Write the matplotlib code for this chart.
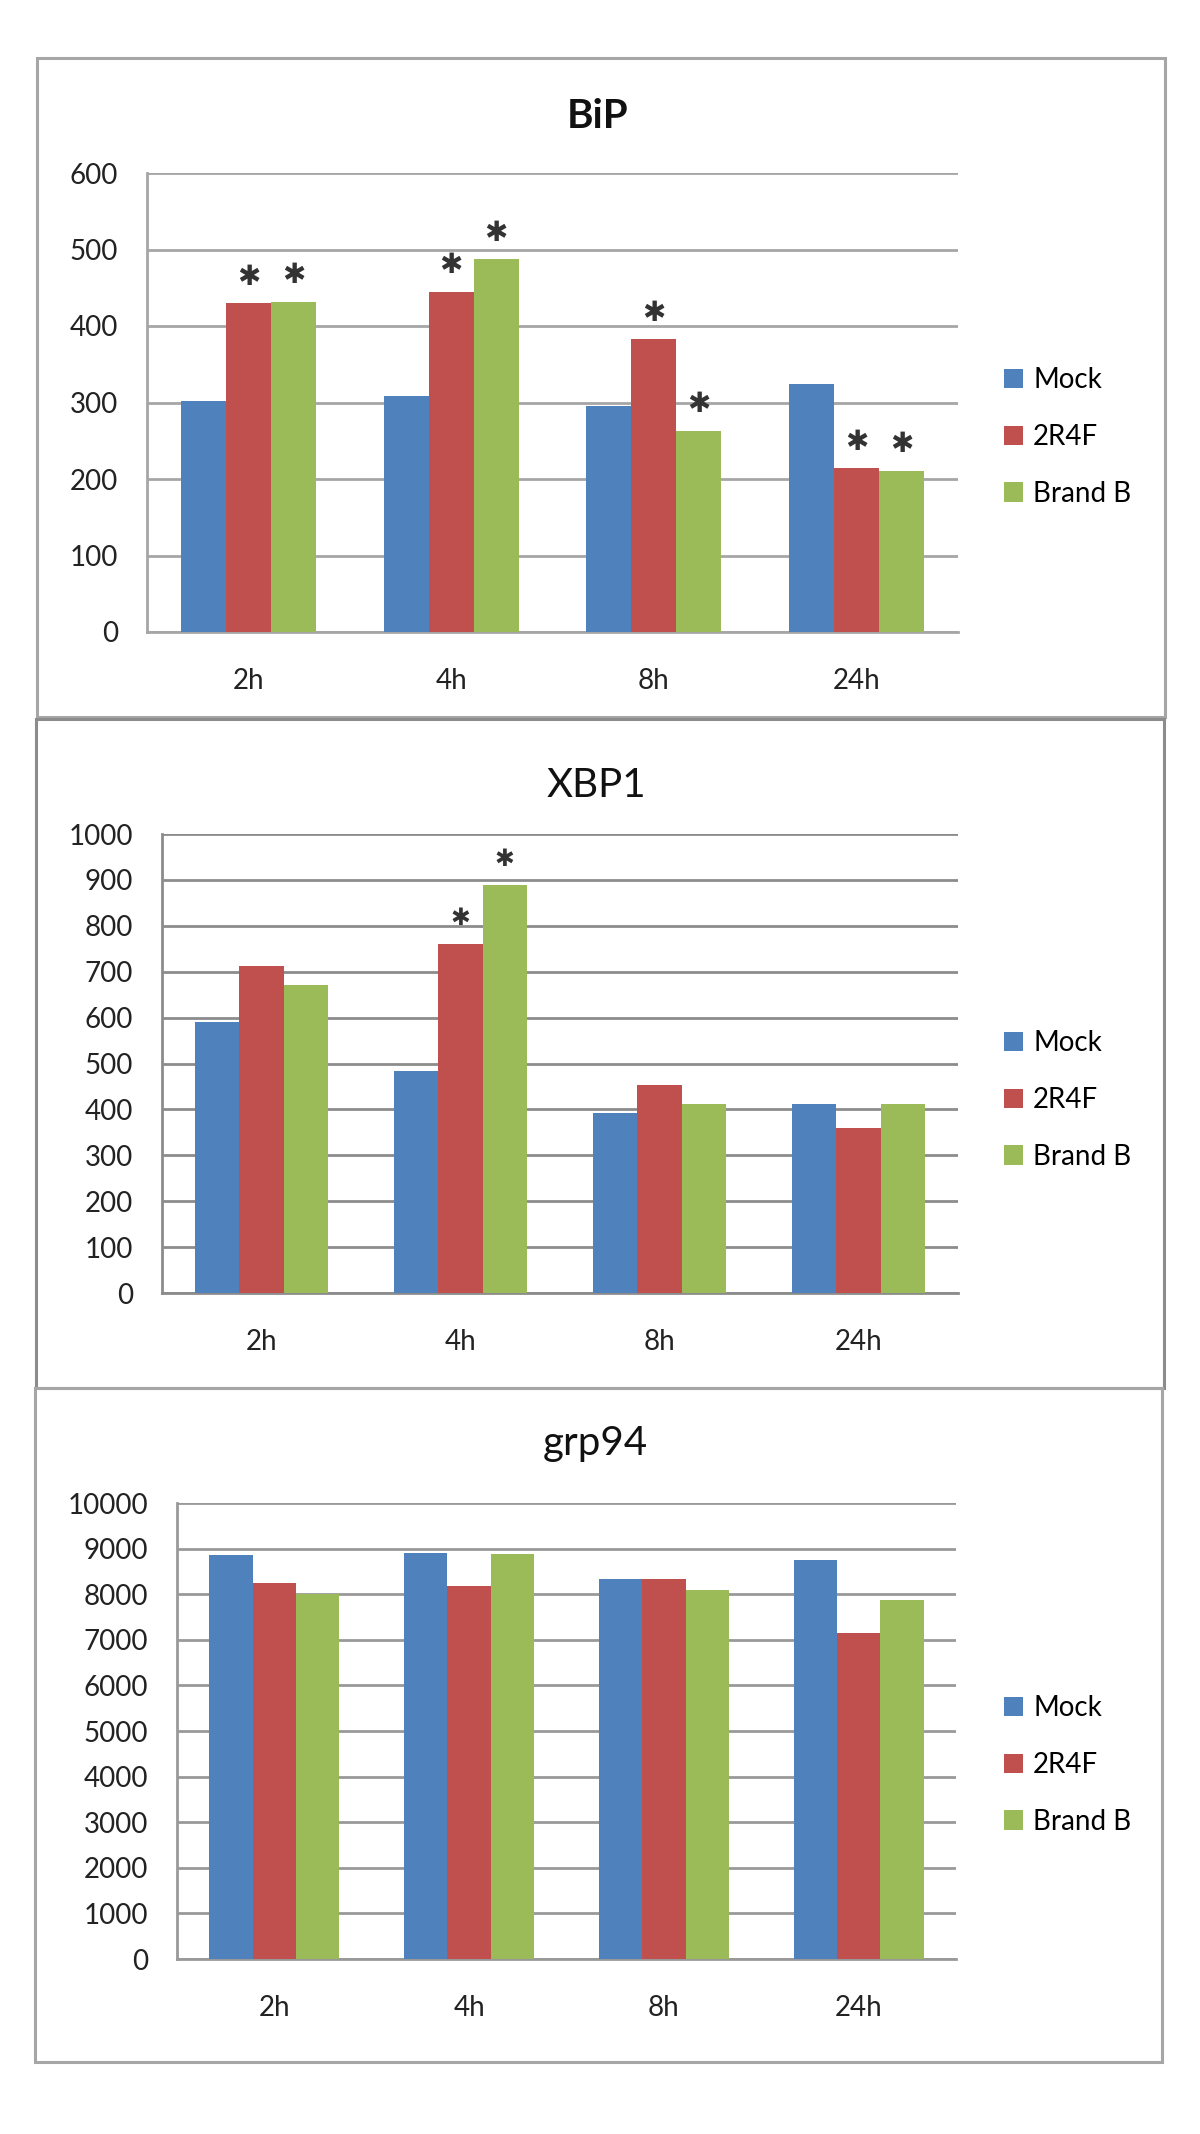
import numpy as np
import matplotlib
matplotlib.use("Agg")
import matplotlib.pyplot as plt
from matplotlib.patches import Rectangle

plt.rcParams['font.family'] = ['Lato', 'DejaVu Sans']

# data
times = ['2h', '4h', '8h', '24h']
series = ['Mock', '2R4F', 'Brand B']
colors = ['#4F81BD', '#C0504D', '#9BBB59']

bip_mock = [302, 309, 296, 324]
bip_2r4f = [430, 445, 383, 214]
bip_brandb = [432, 487, 263, 211]
bip_stars = [(0, 1), (0, 2), (1, 1), (1, 2), (2, 1), (2, 2), (3, 1), (3, 2)]

xbp1_mock = [590, 483, 392, 411]
xbp1_2r4f = [713, 760, 453, 360]
xbp1_brandb = [672, 888, 411, 411]
xbp1_stars = [(1, 1), (1, 2)]

grp94_mock = [8850, 8900, 8340, 8750]
grp94_2r4f = [8236, 8175, 8337, 7157]
grp94_brandb = [8004, 8890, 8085, 7873]
grp94_stars = []

W, H = 1200, 2134
fig = plt.figure(figsize=(W / 100, H / 100), dpi=100)


def box(x0, y0, x1, y1):
    # pixel box -> figure fraction [left, bottom, width, height]
    return [x0 / W, 1 - y1 / H, (x1 - x0) / W, (y1 - y0) / H]


def panel(rect, frame, title, bold, title_y, vals, stars, ymax, ystep,
          leg_y, grid_c, frame_c, star_size):
    fx0, fy0, fx1, fy1 = frame
    fig.patches.append(Rectangle((fx0 / W, 1 - fy1 / H), (fx1 - fx0) / W,
                                 (fy1 - fy0) / H, transform=fig.transFigure,
                                 fill=False, edgecolor=frame_c, linewidth=2.2))
    fig.text((fx0 + fx1) / 2 / W - 0.003, 1 - title_y / H, title, ha='center',
             va='center', fontsize=29,
             fontweight='bold' if bold else 'normal', color='#111111')

    ax = fig.add_axes(box(*rect))
    w = 1 / 4.5
    x = np.arange(len(times))
    for i, v in enumerate(vals):
        ax.bar(x + (i - 1) * w, v, w, color=colors[i], zorder=3,
               label=series[i])
    for ci, si in stars:
        ax.annotate('✱', (x[ci] + (si - 1) * w, vals[si][ci]),
                    xytext=(0, 19), textcoords='offset points', ha='center',
                    va='center', fontsize=star_size, color='#333333',
                    family=['DejaVu Sans'])

    ax.set_xlim(-0.5, len(times) - 0.5)
    ax.set_ylim(0, ymax)
    ax.set_yticks(np.arange(0, ymax + 1, ystep))
    ax.set_xticks(x)
    ax.set_xticklabels(times)
    ax.yaxis.grid(True, color=grid_c, linewidth=2.0, zorder=0)
    ax.set_axisbelow(True)
    for s in ['top', 'right']:
        ax.spines[s].set_visible(False)
    for s in ['left', 'bottom']:
        ax.spines[s].set_color(grid_c)
        ax.spines[s].set_linewidth(2.0)
    ax.tick_params(axis='y', length=0, pad=21, labelsize=20,
                   labelcolor='#222222')
    ax.tick_params(axis='x', length=0, pad=26, labelsize=20,
                   labelcolor='#222222')

    ax.legend(loc='center left', bbox_to_anchor=(1004 / W, 1 - leg_y / H),
              bbox_transform=fig.transFigure, frameon=False, fontsize=20,
              handlelength=0.7, handleheight=0.7, handletextpad=0.35,
              labelspacing=1.1, borderpad=0, borderaxespad=0)
    return ax


panel((147, 173, 958, 632), (37, 58, 1165, 717), 'BiP', True, 116,
      [bip_mock, bip_2r4f, bip_brandb], bip_stars, 600, 100, 437,
      '#a6a6a6', '#a6a6a6', 20)
panel((162, 834, 958, 1293), (36, 719, 1164, 1388), 'XBP1', False, 786,
      [xbp1_mock, xbp1_2r4f, xbp1_brandb], xbp1_stars, 1000, 100, 1100,
      '#8c8c8c', '#8c8c8c', 17)
panel((177, 1503, 956, 1959), (35, 1388, 1162, 2062), 'grp94', False, 1444,
      [grp94_mock, grp94_2r4f, grp94_brandb], grp94_stars, 10000, 1000, 1765,
      '#999999', '#a6a6a6', 17)

fig.savefig('out.png', dpi=100)
